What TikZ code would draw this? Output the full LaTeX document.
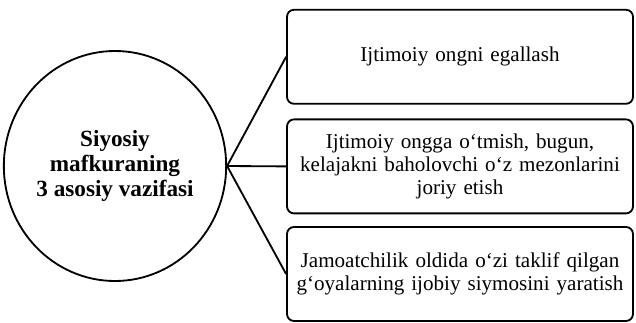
\documentclass[tikz,border=0pt]{standalone}
\usepackage{fontspec}
\setmainfont{Liberation Serif}
\usetikzlibrary{shapes.geometric}
\begin{document}
\begin{tikzpicture}[
  task/.style={rectangle, rounded corners=5pt, draw=black, line width=1.3pt,
    text width=8.4cm, minimum width=8.65cm, minimum height=2.35cm,
    align=center, font=\fontsize{15}{16.5}\selectfont},
  hub/.style={ellipse, draw=black, line width=1.3pt, minimum width=5.35cm,
    minimum height=5.75cm, inner sep=0pt, align=center,
    font=\fontsize{16.5}{17.5}\selectfont\bfseries},
  link/.style={line width=1.3pt},
]
\useasboundingbox (0, 0) rectangle (15.9, -8.05);

\node[hub] (goal) at (2.875, -4.15)
  {Siyosiy\\mafkuraning\\3 asosiy vazifasi};

\node[task] (t1) at (11.5, -1.42)
  {Ijtimoiy ongni egallash};
\node[task] (t2) at (11.5, -4.16)
  {Ijtimoiy ongga o‘tmish, bugun,\\kelajakni baholovchi o‘z mezonlarini\\joriy etish};
\node[task] (t3) at (11.5, -6.85)
  {Jamoatchilik oldida o‘zi taklif qilgan\\g‘oyalarning ijobiy siymosini yaratish};

\draw[link] (goal.east) -- (t1.west);
\draw[link] (goal.east) -- (t2.west);
\draw[link] (goal.east) -- (t3.west);

\end{tikzpicture}
\end{document}
